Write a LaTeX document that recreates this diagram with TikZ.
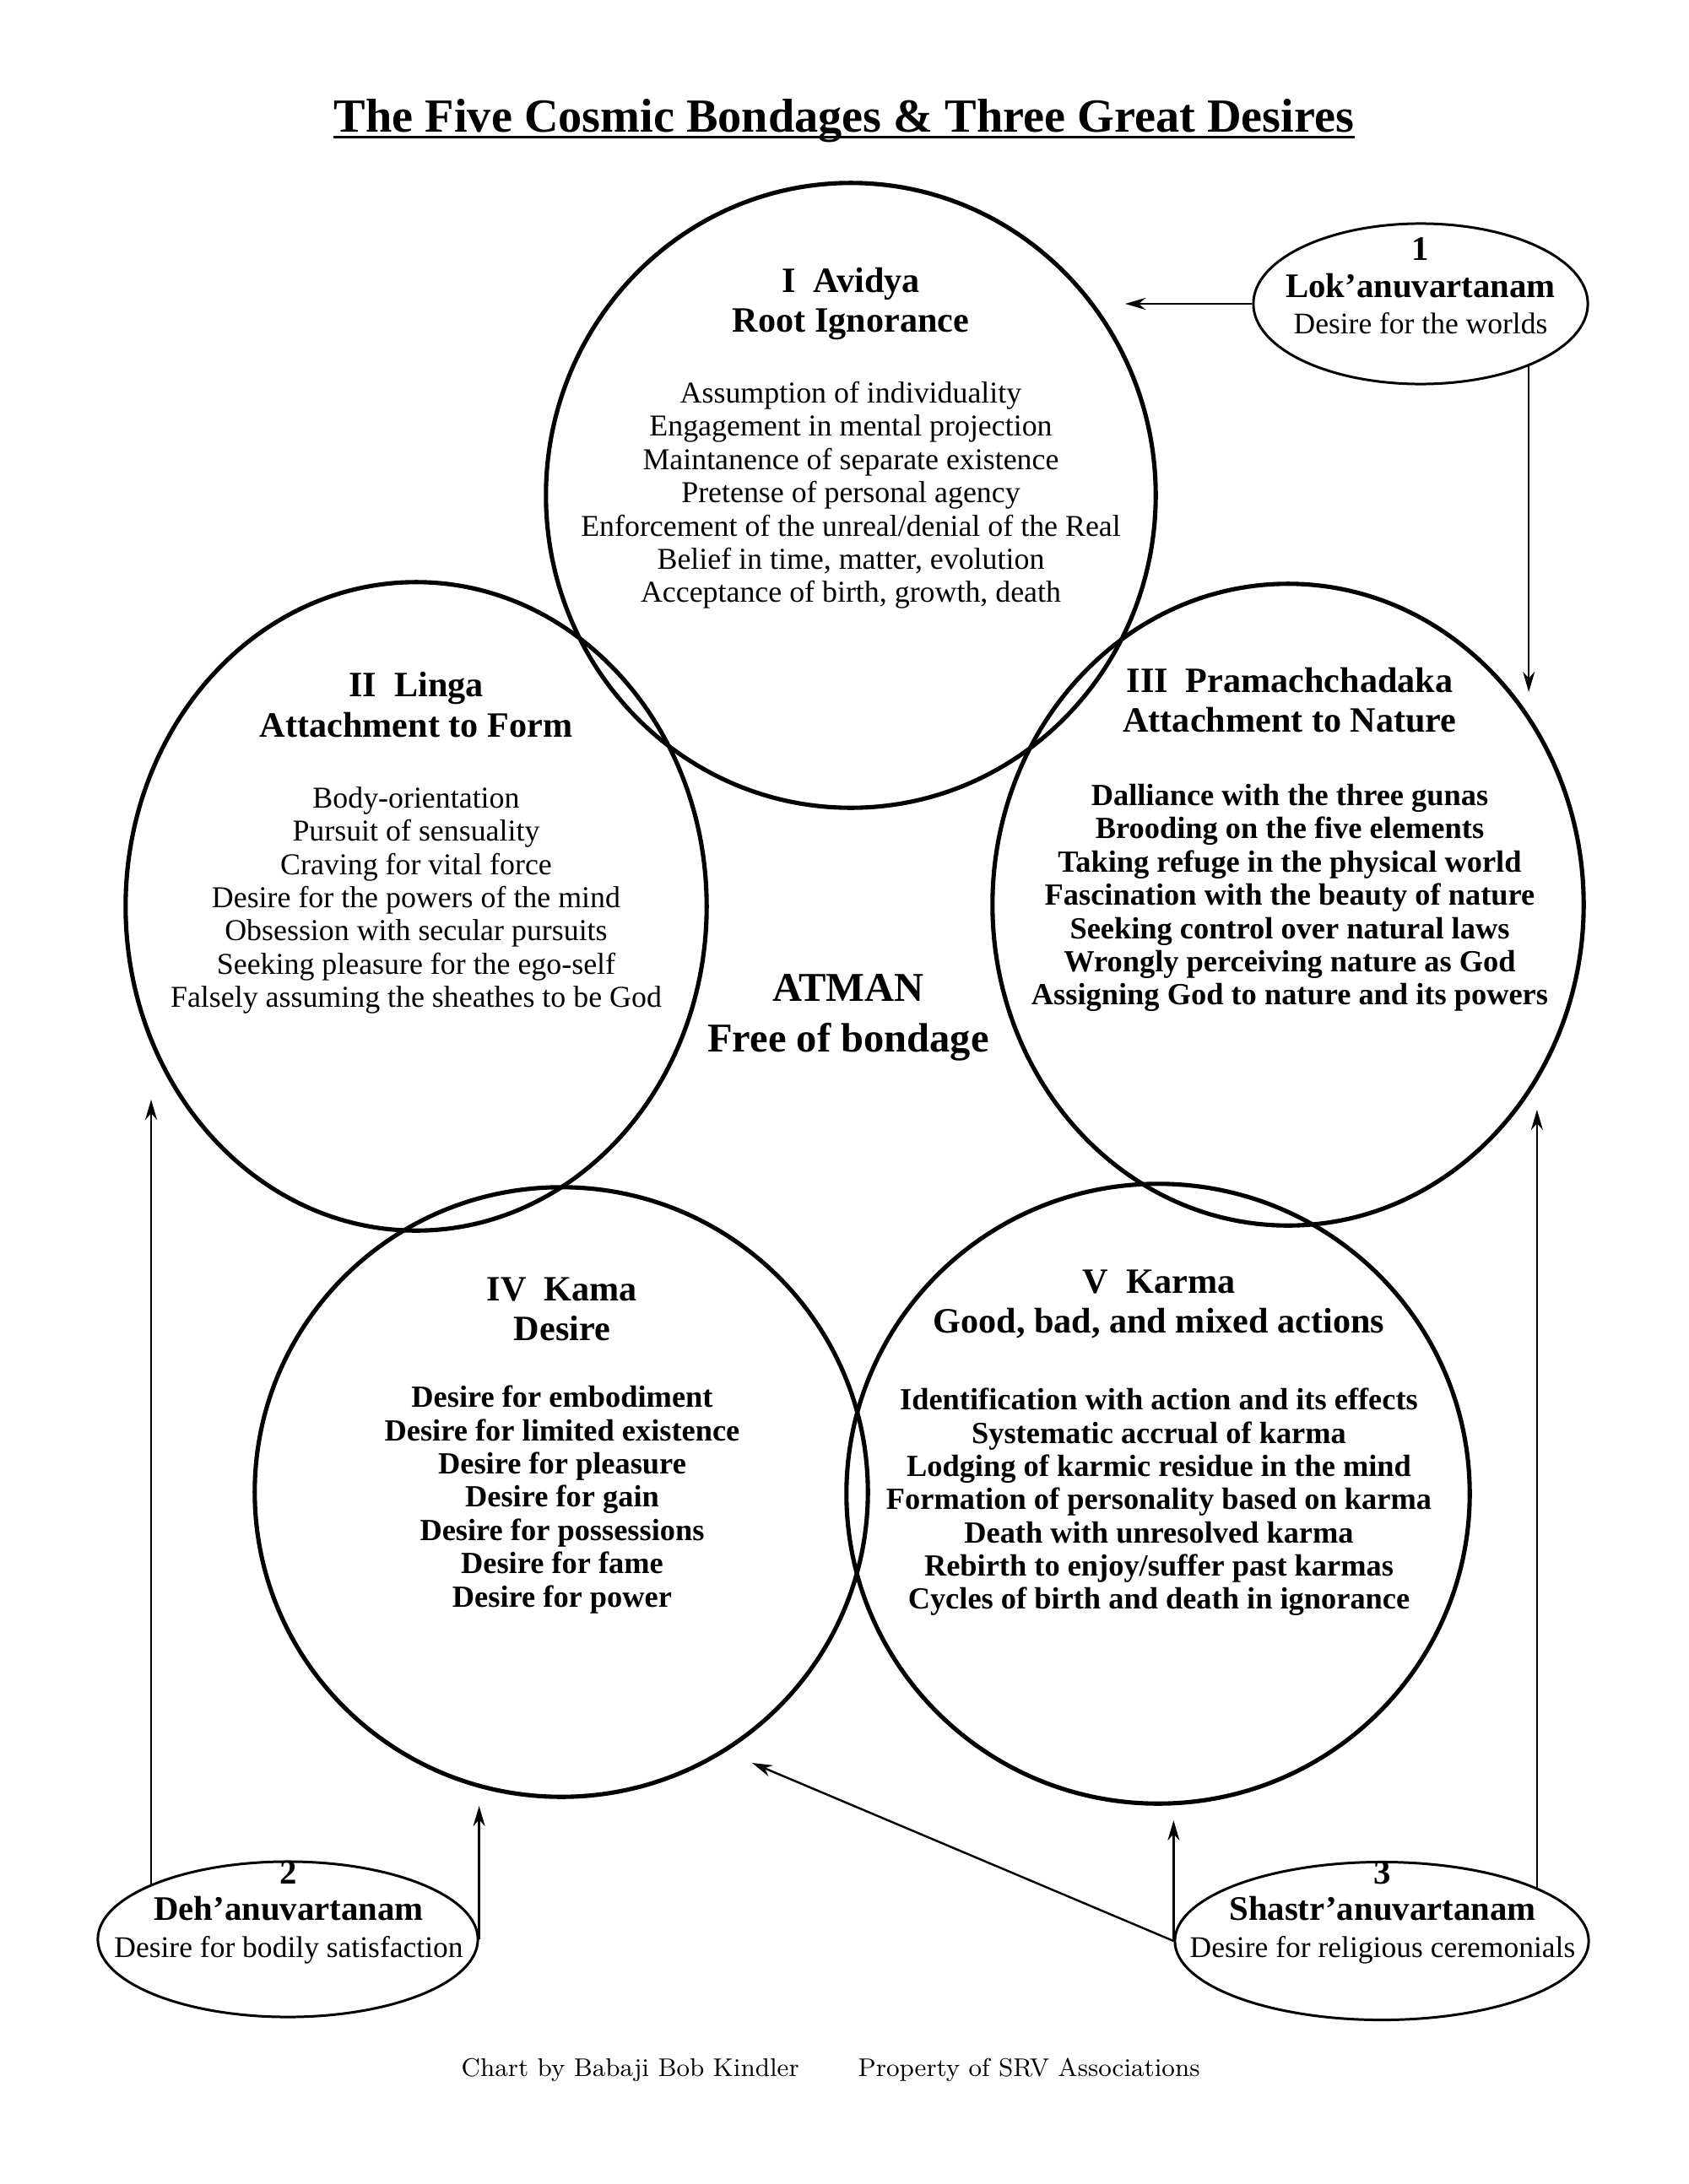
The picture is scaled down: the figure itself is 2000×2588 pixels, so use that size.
\documentclass[tikz,border=0pt]{standalone}
\usepackage{fontspec}
\setmainfont{Liberation Serif}
\newfontfamily\lmfont{Latin Modern Roman}
\usetikzlibrary{arrows.meta,shapes.geometric}
\newcommand\wname[1]{{\fontsize{11.6}{13.6}\selectfont\bfseries #1}}
\tikzset{
  bond/.style={ellipse, draw=black, line width=1.45pt, inner sep=0pt},
  wish/.style={ellipse, draw=black, line width=0.85pt, inner sep=0pt},
  hdr/.style={align=center, inner sep=0pt, font=\fontsize{12}{13.4}\selectfont\bfseries},
  bodytxt/.style={align=center, inner sep=0pt, font=\fontsize{10.2}{11.2}\selectfont},
  boldtxt/.style={align=center, inner sep=0pt, font=\fontsize{10.35}{11.2}\selectfont\bfseries},
  wishtxt/.style={align=center, inner sep=0pt, font=\fontsize{10.1}{12.4}\selectfont},
  flow/.style={-{Stealth[length=2.4mm,width=1.4mm]}, line width=0.7pt},
}

\begin{document}
\begin{tikzpicture}[x=0.01cm, y=-0.01cm]
  \useasboundingbox (0,0) rectangle (2000,2588);

  % title
  \node[inner sep=0pt, anchor=base, font=\fontsize{16}{18}\selectfont\bfseries] (title) at (1000,157)
    {The Five Cosmic Bondages \& Three Great Desires};
  \draw[line width=0.9pt] ([yshift=-1.5pt]title.base west) -- ([yshift=-1.5pt]title.base east);

  % the five bondages
  \node[bond, minimum width=7.22cm, minimum height=7.40cm] (avidya) at (1008,587) {};
  \node[bond, minimum width=6.88cm, minimum height=7.68cm] (linga) at (493,1074) {};
  \node[bond, minimum width=7.00cm, minimum height=7.60cm] (prama) at (1526,1072) {};
  \node[bond, minimum width=7.26cm, minimum height=7.22cm] (kama) at (665,1768) {};
  \node[bond, minimum width=7.38cm, minimum height=7.34cm] (karma) at (1372,1770) {};

  \node[hdr] (avidyahd) at (1008,360) {I~~Avidya\\Root Ignorance};
  \node[bodytxt] (avidyatx) at (1008,587) {Assumption of individuality\\Engagement in mental projection\\
    Maintanence of separate existence\\Pretense of personal agency\\
    Enforcement of the unreal/denial of the Real\\Belief in time, matter, evolution\\
    Acceptance of birth, growth, death};

  \node[hdr] (lingahd) at (493,835) {II~~Linga\\Attachment to Form};
  \node[bodytxt] (lingatx) at (493,1067) {Body-orientation\\Pursuit of sensuality\\Craving for vital force\\
    Desire for the powers of the mind\\Obsession with secular pursuits\\
    Seeking pleasure for the ego-self\\Falsely assuming the sheathes to be God};

  \node[hdr] (pramahd) at (1528,830) {III~~Pramachchadaka\\Attachment to Nature};
  \node[boldtxt] (pramatx) at (1528,1064) {Dalliance with the three gunas\\Brooding on the five elements\\
    Taking refuge in the physical world\\Fascination with the beauty of nature\\
    Seeking control over natural laws\\Wrongly perceiving nature as God\\
    Assigning God to nature and its powers};

  \node[hdr] (kamahd) at (666,1551) {IV~~Kama\\Desire};
  \node[boldtxt] (kamatx) at (666,1777) {Desire for embodiment\\Desire for limited existence\\
    Desire for pleasure\\Desire for gain\\Desire for possessions\\Desire for fame\\Desire for power};

  \node[hdr] (karmahd) at (1373,1545) {V~~Karma\\Good, bad, and mixed actions};
  \node[boldtxt] (karmatx) at (1373,1780) {Identification with action and its effects\\
    Systematic accrual of karma\\Lodging of karmic residue in the mind\\
    Formation of personality based on karma\\Death with unresolved karma\\
    Rebirth to enjoy/suffer past karmas\\Cycles of birth and death in ignorance};

  \node[align=center, inner sep=0pt, font=\fontsize{13.8}{17}\selectfont\bfseries] (atman) at (1005,1206)
    {ATMAN\\Free of bondage};

  % the three desires
  \node[wish, minimum width=3.96cm, minimum height=1.90cm] (lok) at (1683,360) {};
  \node[wishtxt] (loktx) at (1683,339) {\wname{1}\\\wname{Lok’anuvartanam}\\Desire for the worlds};
  \node[wish, minimum width=4.50cm, minimum height=1.84cm] (deh) at (341,2298) {};
  \node[wishtxt] (dehtx) at (342,2266) {\wname{2}\\\wname{Deh’anuvartanam}\\Desire for bodily satisfaction};
  \node[wish, minimum width=4.90cm, minimum height=1.87cm] (shastr) at (1637,2300) {};
  \node[wishtxt] (shastrtx) at (1638,2266) {\wname{3}\\\wname{Shastr’anuvartanam}\\Desire for religious ceremonials};

  % arrow tips
  \coordinate (tipA) at (1333,356);
  \coordinate (tipB) at (1809,820);
  \coordinate (tipC) at (179,1303);
  \coordinate (tipD) at (562,2140);
  \coordinate (tipE) at (1394,2157);
  \coordinate (tipF) at (891,2089);
  \coordinate (tipG) at (1820,1315);

  \draw[flow] (lok.west) -- (lok.west -| tipA);
  \draw[flow] (lok.-30) -- (lok.-30 |- tipB);
  \draw[flow] (deh.158) -- (deh.158 |- tipC);
  \draw[flow] (deh.east) -- (deh.east |- tipD);
  \draw[flow] (shastr.west) -- (shastr.west |- tipE);
  \draw[flow] (shastr.west) -- (tipF);
  \draw[flow] (shastr.19) -- (shastr.19 |- tipG);

  % footer
  \node[anchor=west, inner sep=0pt, font=\lmfont\fontsize{8.6}{10}\selectfont] (credit) at (546,2453)
    {Chart by Babaji Bob Kindler};
  \node[anchor=west, inner sep=0pt, font=\lmfont\fontsize{8.6}{10}\selectfont] (owner) at (1016,2453)
    {Property of SRV Associations};
\end{tikzpicture}
\end{document}
